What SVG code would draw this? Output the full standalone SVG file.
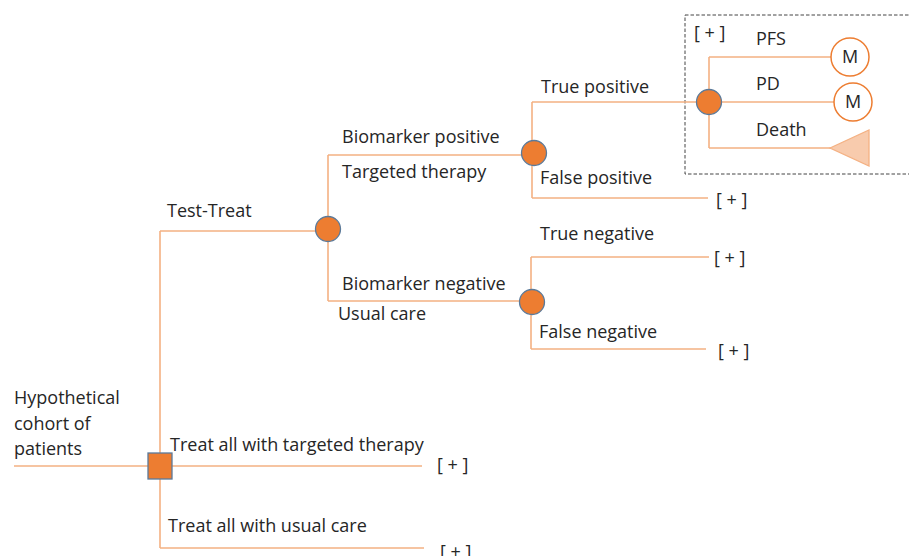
<svg xmlns="http://www.w3.org/2000/svg" width="909" height="556" viewBox="0 0 909 556">
<style>
.ln{stroke:#F4B183;stroke-width:1.6;fill:none}
.ch{fill:#ED7D31;stroke:#5B7A9A;stroke-width:1.3}
.t{font-family:"Open Sans","Liberation Sans",sans-serif;font-size:18px;fill:#262626}
.m{fill:#fff;stroke:#ED7D31;stroke-width:1.5}
</style>
<rect width="909" height="556" fill="#fff"/>
<rect x="685" y="15" width="240" height="159" fill="none" stroke="#444" stroke-width="1" stroke-dasharray="3.5,2"/>
<g id="connectors">
<path class="ln" d="M14 466H148M160 231V548M160 231H316M172 466H422M160 548H424"/>
<path class="ln" d="M328 155V301M328 155H522M328 301H520"/>
<path class="ln" d="M532 102V198M532 102H696M532 198H708"/>
<path class="ln" d="M531 257V349M531 257H709M531 349H706"/>
<path class="ln" d="M709 57V148M709 57H831M722 102H834M709 148H831"/>
</g>
<g id="root"><text class="t" x="14" y="404">Hypothetical</text><text class="t" x="14" y="430">cohort of</text><text class="t" x="14" y="455">patients</text></g>
<g id="decision"><rect x="148" y="453" width="24" height="26" fill="#ED7D31" stroke="#5B7A9A" stroke-width="1.3"/></g>
<g id="test-treat"><circle class="ch" cx="328" cy="229" r="12.5"/><text class="t" x="167" y="217">Test-Treat</text></g>
<g id="treat-targeted"><text class="t" x="170" y="451">Treat all with targeted therapy</text><text class="t" x="437" y="471">[ + ]</text></g>
<g id="treat-usual"><text class="t" x="168" y="532">Treat all with usual care</text><text class="t" x="440" y="558">[ + ]</text></g>
<g id="bio-pos"><circle class="ch" cx="534" cy="153" r="12.5"/><text class="t" x="342" y="143">Biomarker positive</text><text class="t" x="342" y="178">Targeted therapy</text></g>
<g id="bio-neg"><circle class="ch" cx="532" cy="302" r="12.5"/><text class="t" x="342" y="290">Biomarker negative</text><text class="t" x="338" y="320">Usual care</text></g>
<g id="true-pos"><text class="t" x="541" y="93">True positive</text></g>
<g id="false-pos"><text class="t" x="540" y="184">False positive</text><text class="t" x="716" y="206">[ + ]</text></g>
<g id="true-neg"><text class="t" x="540" y="240">True negative</text><text class="t" x="714" y="264">[ + ]</text></g>
<g id="false-neg"><text class="t" x="539" y="338">False negative</text><text class="t" x="718" y="357">[ + ]</text></g>
<g id="state-node"><circle class="ch" cx="709" cy="102" r="12.5"/><text class="t" x="694" y="39">[ + ]</text></g>
<g id="pfs"><text class="t" x="756" y="45">PFS</text><circle class="m" cx="850" cy="57" r="19"/><text class="t" x="850" y="63" text-anchor="middle">M</text></g>
<g id="pd"><text class="t" x="756" y="90">PD</text><circle class="m" cx="853" cy="102" r="19"/><text class="t" x="853" y="108" text-anchor="middle">M</text></g>
<g id="death"><text class="t" x="756" y="136">Death</text><polygon points="830,148 869,130 869,166" fill="#F8CBAD" stroke="#F4B183" stroke-width="1.3"/></g>
</svg>
